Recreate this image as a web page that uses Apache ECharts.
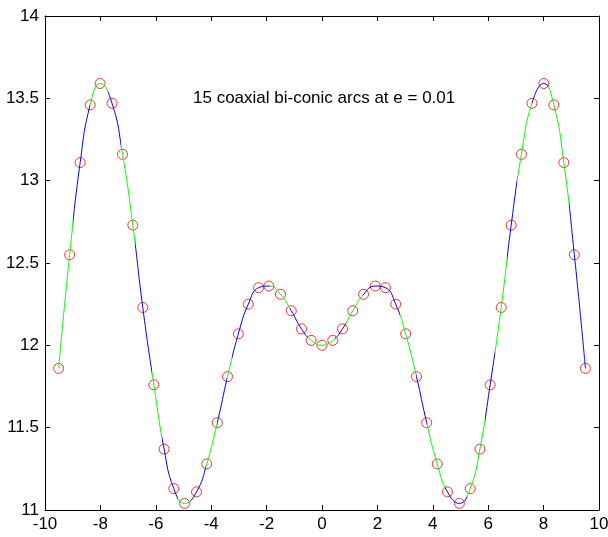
<!DOCTYPE html>
<html style="height: 100%">
<head>
<meta charset="utf-8">
</head>
<body style="height: 100%; margin: 0">
<div id="container" style="width: 608px; height: 537px;"></div>
<script type="text/javascript" src="https://cdn.jsdelivr.net/npm/echarts@6/dist/echarts.min.js"></script>
<script type="text/javascript">
// sample points (red circles)
var xValues = [-9.51, -9.11, -8.73, -8.37, -8.01, -7.58, -7.20, -6.83, -6.47, -6.07,
    -5.70, -5.35, -4.96, -4.53, -4.16, -3.78, -3.41, -3.02, -2.66, -2.29,
    -1.92, -1.50, -1.11, -0.74, -0.39, 0,
    0.39, 0.74, 1.11, 1.50, 1.92, 2.29, 2.66, 3.02, 3.41, 3.78,
    4.16, 4.53, 4.96, 5.35, 5.70, 6.07, 6.47, 6.83, 7.20, 7.58,
    8.01, 8.37, 8.73, 9.11, 9.51];
var yValues = [11.86, 12.55, 13.11, 13.46, 13.59, 13.47, 13.16, 12.73, 12.23, 11.76,
    11.37, 11.13, 11.04, 11.11, 11.28, 11.53, 11.81, 12.07, 12.25, 12.35,
    12.36, 12.31, 12.21, 12.10, 12.03, 12.00,
    12.03, 12.10, 12.21, 12.31, 12.36, 12.35, 12.25, 12.07, 11.81, 11.53,
    11.28, 11.11, 11.04, 11.13, 11.37, 11.76, 12.23, 12.73, 13.16, 13.47,
    13.59, 13.46, 13.11, 12.55, 11.86];

// x where the curve switches colour (arc halves)
var arcBreaks = [-8.99, -8.38, -7.71, -7.27, -6.75, -6.15, -5.79, -5.19, -4.77,
    -4.20, -3.80, -3.42, -3.24, -1.88, -1.16, -0.49,
    0.47, 0.85, 1.49, 2.82, 3.40, 3.78, 4.44, 5.22, 5.88, 6.25, 6.67, 7.03,
    7.57, 8.17, 8.90];
var arcColors = ['#00ff00', '#0000ff'];

var titleText = '15 coaxial bi-conic arcs at e = 0.01';

var points = xValues.map(function (x, i) { return [x, yValues[i]]; });

var edges = [-10].concat(arcBreaks).concat([10]);
var pieces = [];
for (var i = 0; i < edges.length - 1; i++) {
    pieces.push({ gte: edges[i], lt: edges[i + 1], color: arcColors[i % 2] });
}

var font = 'Liberation Sans';
var axisCommon = {
    type: 'value',
    axisLine: { onZero: false, lineStyle: { color: '#000', width: 1 } },
    axisTick: { inside: true, length: 5, lineStyle: { color: '#000' } },
    splitLine: { show: false },
    axisLabel: { color: '#000', fontSize: 17, fontFamily: font }
};

var dom = document.getElementById('container');
var myChart = echarts.init(dom);

var option = {
    animation: false,
    backgroundColor: '#fff',
    grid: { left: 45, right: 9, top: 16, bottom: 27, containLabel: false, outerBoundsMode: 'none' },
    xAxis: [
        Object.assign({}, axisCommon, {
            position: 'bottom', min: -10, max: 10, interval: 2,
            axisLabel: Object.assign({}, axisCommon.axisLabel, { margin: 6, showMinLabel: true, showMaxLabel: true })
        }),
        Object.assign({}, axisCommon, {
            position: 'top', min: -10, max: 10, interval: 2,
            axisLabel: { show: false }
        })
    ],
    yAxis: [
        Object.assign({}, axisCommon, {
            position: 'left', min: 11, max: 14, interval: 0.5,
            axisLabel: Object.assign({}, axisCommon.axisLabel, { margin: 6 })
        }),
        Object.assign({}, axisCommon, {
            position: 'right', min: 11, max: 14, interval: 0.5,
            axisLabel: { show: false }
        })
    ],
    visualMap: {
        show: false,
        type: 'piecewise',
        dimension: 0,
        seriesIndex: 0,
        pieces: pieces
    },
    graphic: [{
        type: 'text',
        x: 193,
        y: 98,
        style: {
            text: titleText,
            fontSize: 17,
            fontFamily: font,
            fill: '#000',
            verticalAlign: 'middle'
        }
    }],
    series: [{
        type: 'line',
        data: points,
        smooth: true,
        showSymbol: false,
        silent: true,
        lineStyle: { width: 1 }
    }, {
        type: 'scatter',
        data: points,
        symbol: 'circle',
        symbolSize: 10,
        silent: true,
        itemStyle: { color: 'rgba(0,0,0,0)', borderColor: '#ff0000', borderWidth: 1 }
    }]
};

myChart.setOption(option);
</script>
</body>
</html>
